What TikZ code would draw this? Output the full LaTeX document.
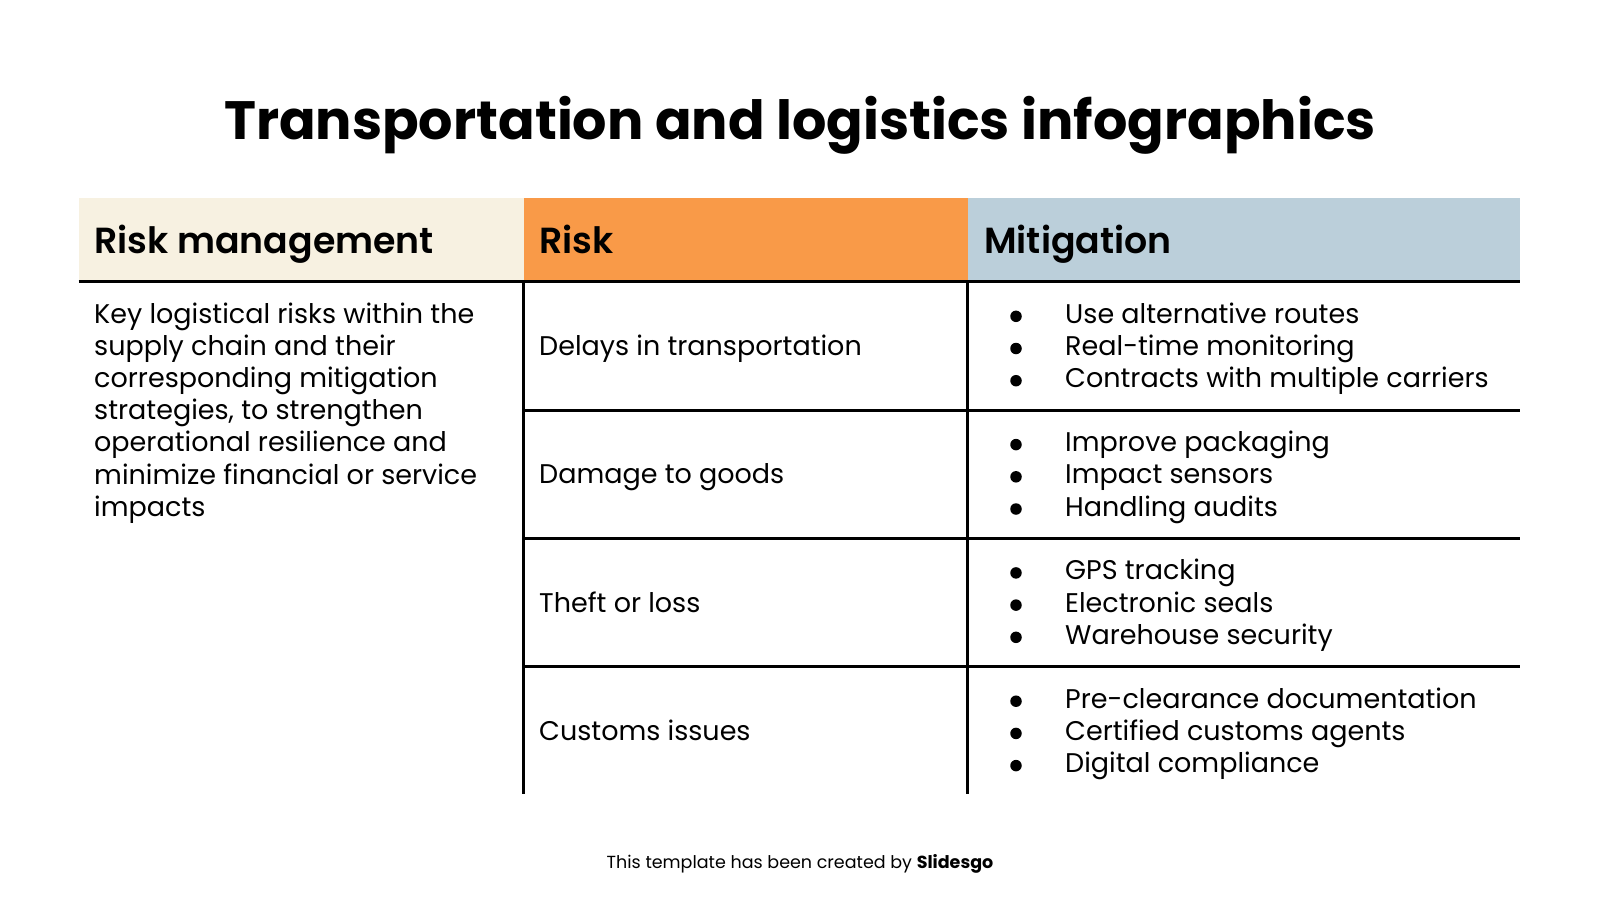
\documentclass[tikz,border=0pt]{standalone}
\usepackage{fontspec}
\setmainfont{Poppins}
\newfontfamily\semib{Poppins SemiBold}
\definecolor{cream}{HTML}{F7F1E1}
\definecolor{orng}{HTML}{F99A48}
\definecolor{bluegray}{HTML}{BBCFDA}
\tikzset{
  rule/.style={line width=3pt, black},
  hdrtext/.style={anchor=base west, inner sep=0pt, font=\fontsize{36.3}{40}\selectfont\semib},
  bodytext/.style={anchor=base west, inner sep=0pt, font=\fontsize{27}{32}\selectfont},
  dot/.style={circle, fill=black, inner sep=0pt, minimum size=11.5pt},
}
\begin{document}
\begin{tikzpicture}[x=1pt,y=-1pt]
\useasboundingbox (0,0) rectangle (1600,900);
\fill[white] (0,0) rectangle (1600,900);
\node[anchor=base, font=\fontsize{54}{60}\selectfont\bfseries, inner sep=0pt] (title) at (800,139) {Transportation and logistics infographics};
% header fills
\fill[cream] (78.6,198) rectangle (523.5,281);
\fill[orng] (523.5,198) rectangle (967.5,281);
\fill[bluegray] (967.5,198) rectangle (1520,281);
\node[hdrtext] (h1) at (94,253) {Risk management};
\node[hdrtext] (h2) at (539,253) {Risk};
\node[hdrtext] (h3) at (984,253) {Mitigation};
% rules
\draw[rule] (78.6,281) -- (1520,281);
\draw[rule] (523.5,281) -- (523.5,794);
\draw[rule] (967.5,281) -- (967.5,794);
\draw[rule] (523.5,410) -- (1520,410);
\draw[rule] (523.5,538) -- (1520,538);
\draw[rule] (523.5,666) -- (1520,666);
% description (base anchor = baseline of last line)
\node[anchor=base west, inner sep=0pt, align=left, font=\fontsize{27}{32.2}\selectfont] (desc) at (94,516.2) {Key logistical risks within the\\supply chain and their\\corresponding mitigation\\strategies, to strengthen\\operational resilience and\\minimize financial or service\\impacts};
% risks
\node[bodytext] (r1) at (539,355.5) {Delays in transportation};
\node[bodytext] (r2) at (539,483.8) {Damage to goods};
\node[bodytext] (r3) at (539,612.1) {Theft or loss};
\node[bodytext] (r4) at (539,740.4) {Customs issues};
% mitigations
\node[dot] (d11) at (1016,316.3) {};
\node[dot] (d12) at (1016,348.5) {};
\node[dot] (d13) at (1016,380.7) {};
\node[bodytext] (m11) at (1065,323.3) {Use alternative routes};
\node[bodytext] (m12) at (1065,355.5) {Real-time monitoring};
\node[bodytext] (m13) at (1065,387.7) {Contracts with multiple carriers};
\node[dot] (d21) at (1016,444.6) {};
\node[dot] (d22) at (1016,476.8) {};
\node[dot] (d23) at (1016,509.0) {};
\node[bodytext] (m21) at (1065,451.6) {Improve packaging};
\node[bodytext] (m22) at (1065,483.8) {Impact sensors};
\node[bodytext] (m23) at (1065,516.0) {Handling audits};
\node[dot] (d31) at (1016,572.9) {};
\node[dot] (d32) at (1016,605.1) {};
\node[dot] (d33) at (1016,637.3) {};
\node[bodytext] (m31) at (1065,579.9) {GPS tracking};
\node[bodytext] (m32) at (1065,612.1) {Electronic seals};
\node[bodytext] (m33) at (1065,644.3) {Warehouse security};
\node[dot] (d41) at (1016,701.2) {};
\node[dot] (d42) at (1016,733.4) {};
\node[dot] (d43) at (1016,765.6) {};
\node[bodytext] (m41) at (1065,708.2) {Pre-clearance documentation};
\node[bodytext] (m42) at (1065,740.4) {Certified customs agents};
\node[bodytext] (m43) at (1065,772.6) {Digital compliance};
% footer
\node[anchor=base, font=\fontsize{17.5}{20}\selectfont, inner sep=0pt] (footer) at (800,868) {This template has been created by \textbf{Slidesgo}};
\end{tikzpicture}
\end{document}
